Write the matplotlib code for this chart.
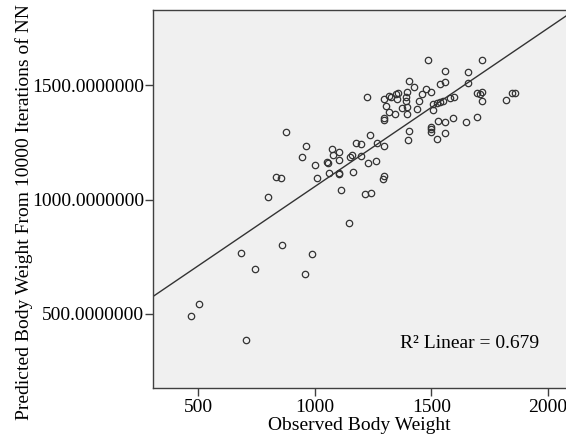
import numpy as np
import matplotlib
matplotlib.use("Agg")
from matplotlib import pyplot as plt

# observed vs predicted body weight
observed = [1487.5, 1717.9, 1557.6, 1659.2, 1405.9, 1426.0, 1557.6, 1539.0, 1659.2, 1222.8,
            1298.6, 1317.2, 1325.8, 1348.7, 1358.7, 1395.9, 1390.2, 1351.6, 1305.8, 1320.1,
            1343.0, 1298.6, 1298.6, 1375.9, 1395.9, 1395.9, 1437.4, 1447.5, 1460.3, 1478.9,
            1499.0, 1506.1, 1509.0, 1526.2, 1537.6, 1549.1, 1582.0, 1599.1, 1697.9, 1717.9,
            1709.3, 1717.9, 1819.5, 1848.1, 1859.6, 1527.6, 1557.6, 1592.0, 1647.8, 1697.9,
            1499.0, 1499.0, 1499.0, 1557.6, 1526.2, 1405.9, 1398.8, 876.5, 1238.5, 1265.7,
            1177.0, 1198.4, 1295.8, 963.8, 1075.4, 1102.6, 1078.2, 946.6, 1161.2, 1151.2,
            1199.9, 1105.4, 999.5, 1053.9, 1058.2, 1229.9, 1261.4, 1061.1, 1102.6, 1102.6,
            1162.7, 1011.0, 833.5, 855.0, 1295.8, 1294.3, 799.2, 1111.2, 1214.2, 1242.8,
            1391.6, 1146.9, 859.3, 683.3, 986.7, 744.8, 959.5, 501.5, 467.2, 706.2]
predicted = [1610.6, 1610.6, 1564.0, 1556.7, 1520.2, 1494.0, 1514.4, 1507.1, 1508.6, 1448.8,
             1440.1, 1451.7, 1450.3, 1461.9, 1466.3, 1472.1, 1450.3, 1438.6, 1409.4, 1383.2,
             1373.0, 1355.5, 1346.8, 1399.2, 1406.5, 1374.5, 1396.3, 1432.8, 1460.5, 1482.3,
             1470.7, 1419.7, 1392.0, 1424.0, 1428.4, 1431.3, 1444.4, 1447.3, 1464.8, 1469.2,
             1460.5, 1429.9, 1435.7, 1467.8, 1464.8, 1342.4, 1340.9, 1357.0, 1339.5, 1362.8,
             1319.1, 1294.3, 1307.4, 1289.9, 1265.1, 1301.6, 1259.3, 1297.2, 1284.1, 1249.1,
             1246.2, 1244.7, 1233.1, 1234.5, 1219.9, 1208.3, 1193.7, 1187.9, 1195.2, 1186.4,
             1190.8, 1171.8, 1152.9, 1163.1, 1161.6, 1158.7, 1168.9, 1117.9, 1115.0, 1110.6,
             1120.8, 1094.6, 1099.0, 1096.0, 1104.8, 1090.2, 1013.0, 1040.6, 1026.1, 1027.5,
             1431.3, 897.8, 801.6, 766.6, 760.8, 695.2, 673.3, 545.1, 489.7, 384.7]

x_ticks = [500, 1000, 1500, 2000]
y_ticks = [500, 1000, 1500]
r2_text = "R\u00b2 Linear = 0.679"

plt.rcParams['font.family'] = ['Liberation Serif', 'DejaVu Serif']
fs = 14

fig = plt.figure(figsize=(5.66, 4.47), dpi=100)
ax = fig.add_axes([0.2712, 0.132, 0.7288, 0.8456])
ax.set_facecolor("#f0f0f0")

x = np.array(observed)
y = np.array(predicted)

# fit line
b, a = np.polyfit(x, y, 1)
xl = np.array([300, 2100])
ax.plot(xl, a + b * xl, color="#333333", lw=1.0, zorder=2)

ax.plot(x, y, 'o', mfc='none', mec="#333333", ms=4.6, mew=0.9, zorder=3)

ax.set_xlim(307.7, 2078.6)
ax.set_ylim(176.4, 1829)
ax.set_xticks(x_ticks)
ax.set_yticks(y_ticks)
ax.set_yticklabels(["%.7f" % v for v in y_ticks])
ax.tick_params(direction='out', length=6, width=1, color="#404040", labelsize=fs, pad=2)
ax.tick_params(axis='y', pad=0.8)

for s in ['left', 'top', 'bottom']:
    ax.spines[s].set_color("#404040")
    ax.spines[s].set_linewidth(1.0)
ax.spines['right'].set_visible(False)

ax.set_xlabel("Observed Body Weight", fontsize=fs, labelpad=1)
ax.set_ylabel("Predicted Body Weight From 10000 Iterations of NN", fontsize=fs)
ax.yaxis.set_label_coords(-0.292, 0.466)

ax.text(1366, 369, r2_text, fontsize=fs, ha='left', va='center')

fig.savefig("out.png", dpi=100)
